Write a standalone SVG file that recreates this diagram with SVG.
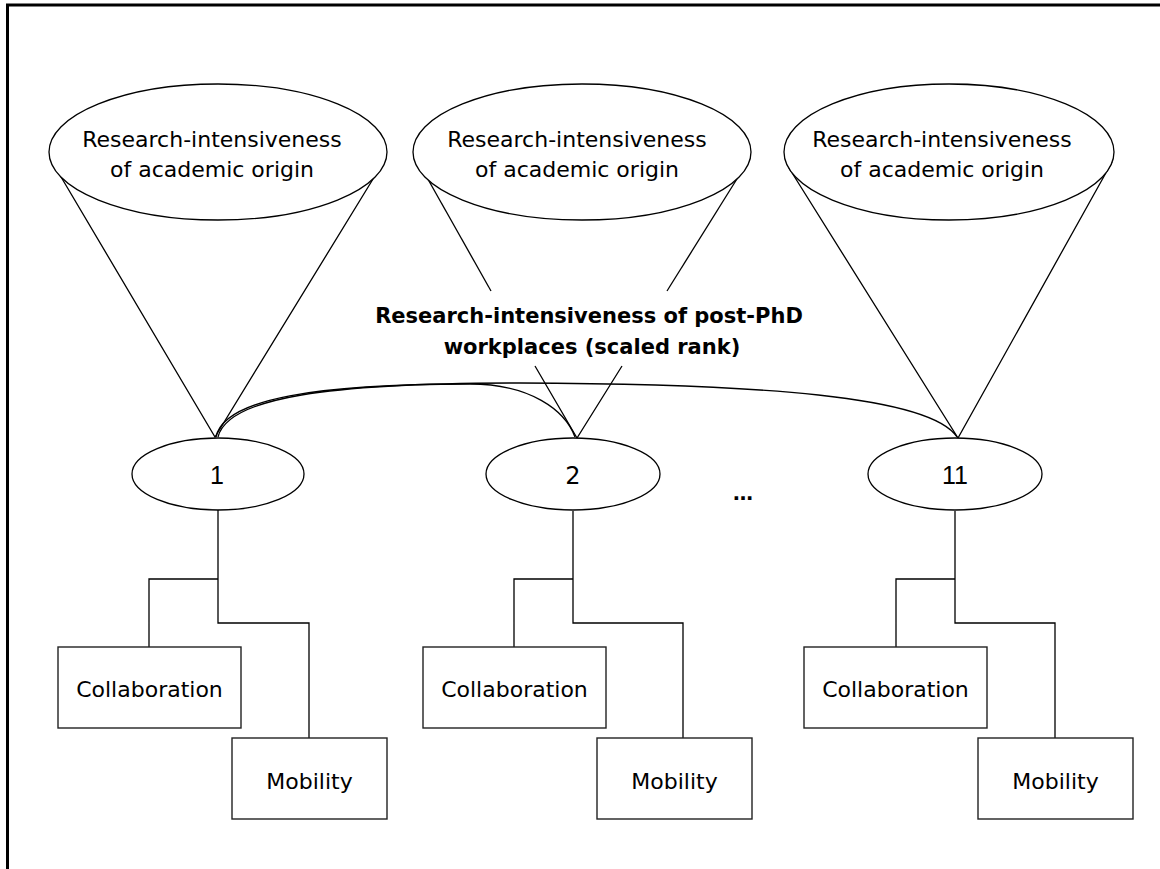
<svg xmlns="http://www.w3.org/2000/svg" width="1160" height="869" viewBox="0 0 1160 869">
  <style>
    .shape { fill: #fff; stroke: #000; stroke-width: 1.3; }
    .box { fill: #fff; stroke: #222; stroke-width: 1.4; }
    .wire { fill: none; stroke: #000; stroke-width: 1.3; }
    .lbl { font-family: "DejaVu Sans", sans-serif; font-size: 22px; fill: #000; text-anchor: middle; }
    .num { font-family: "Liberation Sans", Arial, sans-serif; font-size: 25px; fill: #000; text-anchor: middle; }
    .bold { font-family: "DejaVu Sans", sans-serif; font-size: 21px; font-weight: bold; fill: #000; text-anchor: middle; }
  </style>
  <rect width="1160" height="869" fill="#fff"/>
  <!-- frame -->
  <path d="M7.5,869 V5 H1160" fill="none" stroke="#000" stroke-width="3"/>

  <!-- connectors -->
  <g id="connectors" class="wire">
    <!-- cones from origin ellipses -->
    <path d="M51,160 L215,437 L381,166"/>
    <path d="M416,158 L491,291"/>
    <path d="M750,158 L667,291"/>
    <path d="M535,366 L577,438 L622,366"/>
    <path d="M789,168 L958,438 L1112,162"/>
    <!-- curved links between time points -->
    <path d="M216,437 C224,398 320,384 470,384 C530,384 565,410 575,437"/>
    <path d="M218,437 C228,397 330,383 520,383 C760,384 930,396 957,437"/>
    <!-- trees under each node -->
    <path d="M218,510 V623 H309 V738 M218,579 H149 V647"/>
    <path d="M573,511 V623 H683 V738 M573,579 H514 V647"/>
    <path d="M955,511 V623 H1055 V738 M955,579 H896 V647"/>
  </g>

  <!-- origin ellipses -->
  <g id="origin1">
    <ellipse class="shape" cx="218" cy="152" rx="169" ry="68"/>
    <text class="lbl" x="212" y="147">Research-intensiveness</text>
    <text class="lbl" x="212" y="177">of academic origin</text>
  </g>
  <g id="origin2">
    <ellipse class="shape" cx="582" cy="152" rx="169" ry="68"/>
    <text class="lbl" x="577" y="147">Research-intensiveness</text>
    <text class="lbl" x="577" y="177">of academic origin</text>
  </g>
  <g id="origin11">
    <ellipse class="shape" cx="949" cy="152" rx="165" ry="68"/>
    <text class="lbl" x="942" y="147">Research-intensiveness</text>
    <text class="lbl" x="942" y="177">of academic origin</text>
  </g>

  <!-- workplace label -->
  <g id="workplace">
    <text class="bold" x="589" y="323">Research-intensiveness of post-PhD</text>
    <text class="bold" x="592" y="354">workplaces (scaled rank)</text>
  </g>

  <!-- time points -->
  <g id="node1">
    <ellipse class="shape" cx="218" cy="474" rx="86" ry="36"/>
    <text class="num" x="217" y="484">1</text>
  </g>
  <g id="node2">
    <ellipse class="shape" cx="573" cy="474" rx="87" ry="36"/>
    <text class="lbl" x="573" y="484" style="font-size:24px">2</text>
  </g>
  <g id="ellipsis">
    <text class="lbl" x="743" y="500" style="font-size:20px;font-weight:bold">…</text>
  </g>
  <g id="node11">
    <ellipse class="shape" cx="955" cy="474" rx="87" ry="36"/>
    <text class="num" x="955" y="484">11</text>
  </g>

  <!-- outcome boxes -->
  <g id="collab1">
    <rect class="box" x="58" y="647" width="183" height="81"/>
    <text class="lbl" x="149.5" y="697">Collaboration</text>
  </g>
  <g id="mobility1">
    <rect class="box" x="232" y="738" width="155" height="81"/>
    <text class="lbl" x="309.5" y="789">Mobility</text>
  </g>
  <g id="collab2">
    <rect class="box" x="423" y="647" width="183" height="81"/>
    <text class="lbl" x="514.5" y="697">Collaboration</text>
  </g>
  <g id="mobility2">
    <rect class="box" x="597" y="738" width="155" height="81"/>
    <text class="lbl" x="674.5" y="789">Mobility</text>
  </g>
  <g id="collab11">
    <rect class="box" x="804" y="647" width="183" height="81"/>
    <text class="lbl" x="895.5" y="697">Collaboration</text>
  </g>
  <g id="mobility11">
    <rect class="box" x="978" y="738" width="155" height="81"/>
    <text class="lbl" x="1055.5" y="789">Mobility</text>
  </g>
</svg>
